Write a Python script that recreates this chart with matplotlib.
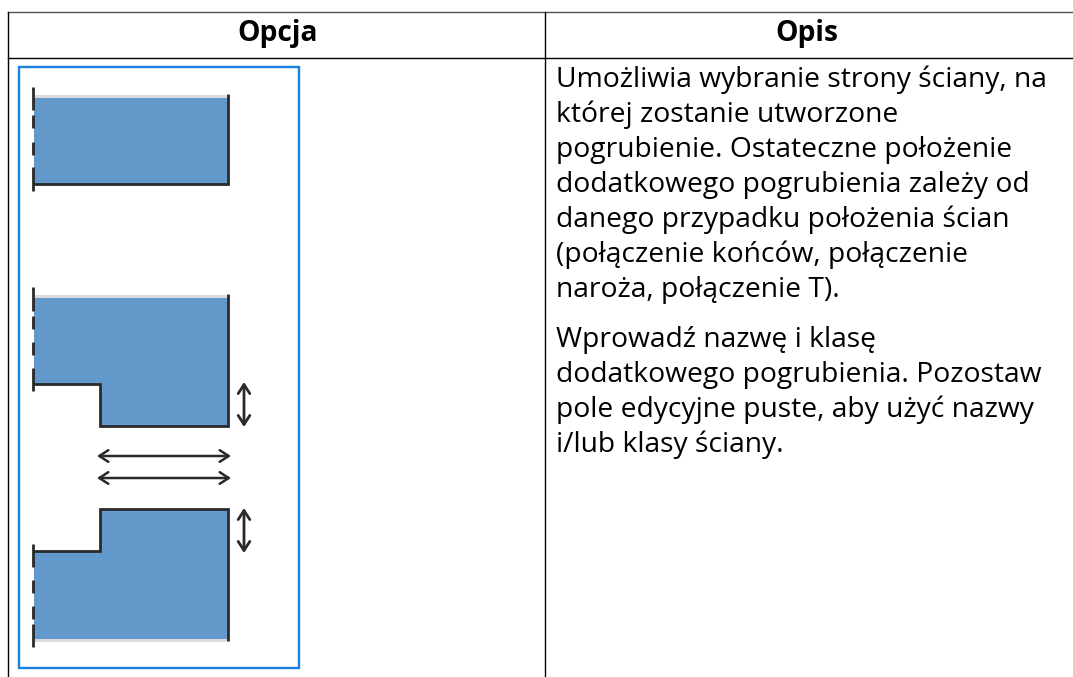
import matplotlib
matplotlib.use("Agg")
import matplotlib.pyplot as plt
from matplotlib.patches import Polygon, Rectangle

W, H = 1073, 677
headers = ["Opcja", "Opis"]
para1 = ["Umożliwia wybranie strony ściany, na", "której zostanie utworzone",
         "pogrubienie. Ostateczne położenie", "dodatkowego pogrubienia zależy od",
         "danego przypadku położenia ścian", "(połączenie końców, połączenie",
         "naroża, połączenie T)."]
para2 = ["Wprowadź nazwę i klasę", "dodatkowego pogrubienia. Pozostaw",
         "pole edycyjne puste, aby użyć nazwy", "i/lub klasy ściany."]
para1_y = [87, 122, 157, 192, 227, 262, 296.5]
para2_y = [347, 382, 417, 452]

shape1 = [(34, 96), (228, 96), (228, 184), (34, 184)]
shape2 = [(34, 296), (228, 296), (228, 426), (100, 426), (100, 384), (34, 384)]
shape3 = [(100, 509), (228, 509), (228, 639), (34, 639), (34, 551), (100, 551)]
edge1 = [(228, 94), (228, 184), (33, 184)]
edge2 = [(228, 294), (228, 426), (100, 426), (100, 384), (33, 384)]
edge3 = [(228, 641), (228, 509), (100, 509), (100, 551), (33, 551)]
grey_lines = [(34, 228, 95.5), (34, 228, 295.5), (34, 228, 639.5)]
left_segments = [(87, 110), (115, 128), (142, 155), (167, 191),
                 (287, 311), (316, 329), (342, 355), (368, 391),
                 (544, 567), (580, 593), (606, 619), (624, 647)]
v_arrows = [(244, 382, 427), (244, 508, 553)]
h_arrows = [(97, 231, 456), (97, 231, 478)]

fig = plt.figure(figsize=(W / 100, H / 100), dpi=100)
ax = fig.add_axes([0, 0, 1, 1])
ax.set_xlim(0, W)
ax.set_ylim(H, 0)
ax.axis("off")

# table rules
ax.plot([7.5, W], [11.5, 11.5], color="#555555", lw=1.0)
ax.plot([7.5, W], [57.5, 57.5], color="black", lw=1.0)
ax.plot([7.5, 7.5], [11.5, H], color="black", lw=1.0)
ax.plot([545, 545], [11.5, H], color="black", lw=1.0)

# image frame
ax.add_patch(Rectangle((19, 66.5), 279.5, 601.5, fill=False, ec="#1a82e0", lw=1.7))

blue = "#6398cb"
ink = "#2a2a2a"
for s in (shape1, shape2, shape3):
    ax.add_patch(Polygon(s, closed=True, fc=blue, ec="none"))
for x0, x1, y in grey_lines:
    ax.plot([x0, x1], [y, y], color="#dcdcdc", lw=2.2, solid_capstyle="butt")
for e in (edge1, edge2, edge3):
    ax.plot([p[0] for p in e], [p[1] for p in e], color=ink, lw=2.0,
            solid_joinstyle="miter", solid_capstyle="butt")
for y0, y1 in left_segments:
    ax.plot([33, 33], [y0, y1], color=ink, lw=2.0, solid_capstyle="butt")

for x, y0, y1 in v_arrows:
    ax.annotate("", xy=(x, y0), xytext=(x, y1),
                arrowprops=dict(arrowstyle="<->,head_length=0.65,head_width=0.42", lw=2.0,
                                color=ink, shrinkA=0, shrinkB=0))
for x0, x1, y in h_arrows:
    ax.annotate("", xy=(x0, y), xytext=(x1, y),
                arrowprops=dict(arrowstyle="<->,head_length=0.65,head_width=0.42", lw=1.8,
                                color=ink, shrinkA=0, shrinkB=0))

font = "Open Sans"
fs = 20.3
ax.text(278, 41, headers[0], ha="center", va="baseline", family=font,
        fontsize=fs, fontweight="bold", color="black")
ax.text(806.5, 41, headers[1], ha="center", va="baseline", family=font,
        fontsize=fs, fontweight="bold", color="black")
for line, y in zip(para1 + para2, para1_y + para2_y):
    ax.text(556, y, line, ha="left", va="baseline", family=font,
            fontsize=fs, color="black")

fig.savefig("out.png", dpi=100)
